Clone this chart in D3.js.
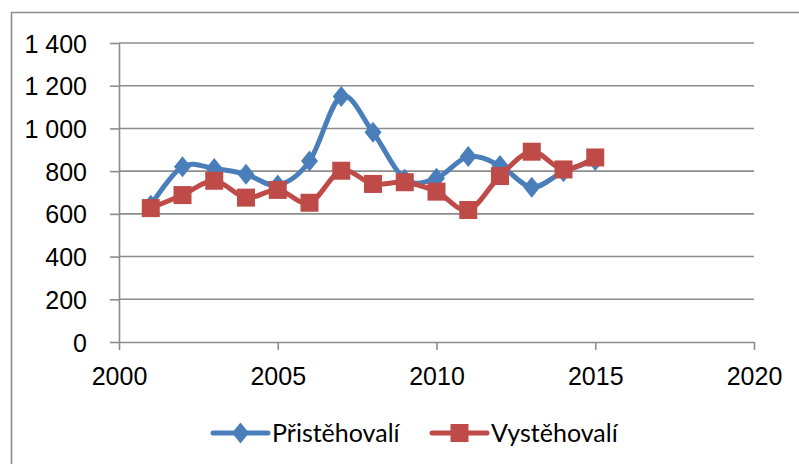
<!DOCTYPE html>
<html>
<head>
<meta charset="utf-8">
<script src="https://cdn.jsdelivr.net/npm/d3@7"></script>
<style>
  body { margin: 0; background: #fff; }
  svg { display: block; font-family: Lato, "Open Sans", sans-serif; }
  .grid line { stroke: #8c8c8c; stroke-width: 1.6; }
  .axis path, .axis line { stroke: #8c8c8c; stroke-width: 1.6; }
  .axis text { fill: #000; font-size: 25px; }
  .legend text { font-size: 25px; fill: #000; }
</style>
</head>
<body>
<svg class="chart"></svg>
<script>
var years = [2001, 2002, 2003, 2004, 2005, 2006, 2007, 2008, 2009, 2010, 2011, 2012, 2013, 2014, 2015];
var prist = [640, 821, 812, 785, 735, 847, 1150, 982, 762, 767, 868, 826, 725, 797, 850];
var vyst = [627, 688, 755, 676, 712, 652, 802, 740, 748, 704, 618, 777, 891, 808, 864];
var seriesNames = ["Přistěhovalí", "Vystěhovalí"];
var xTicks = [2000, 2005, 2010, 2015, 2020];
var yTicks = [0, 200, 400, 600, 800, 1000, 1200, 1400];

var W = 799, H = 464;
var margin = { top: 43, right: 45, bottom: 122, left: 119 },
width = W - margin.left - margin.right,
height = H - margin.top - margin.bottom;

var blue = "#4a7ebb", red = "#be4b48";

var x = d3.scaleLinear()
  .domain([2000, 2020])
  .range([0, width]);
var y = d3.scaleLinear()
  .domain([0, 1400])
  .range([height, 0]);

var fmt = function(d) { return d3.format(",")(d).replace(",", " "); };

var svg = d3.select(".chart")
  .attr("width", W)
  .attr("height", H);

// outer frame (only left and top visible)
svg.append("path")
  .attr("d", "M11.5," + H + "V12.5H" + W)
  .attr("fill", "none")
  .attr("stroke", "#8c8c8c")
  .attr("stroke-width", 1.6);

var g = svg.append("g")
  .attr("transform", "translate(" + margin.left + "," + margin.top + ")");

g.append("g")
  .attr("class", "grid")
  .selectAll("line")
  .data(yTicks.slice(1))
  .enter().append("line")
    .attr("x1", 0)
    .attr("x2", width)
    .attr("y1", function(d) { return y(d); })
    .attr("y2", function(d) { return y(d); });

var yAxis = d3.axisLeft(y)
  .tickValues(yTicks)
  .tickFormat(fmt)
  .tickSize(9)
  .tickSizeOuter(0)
  .tickPadding(23);
var xAxis = d3.axisBottom(x)
  .tickValues(xTicks)
  .tickFormat(d3.format("d"))
  .tickSize(8)
  .tickSizeOuter(0)
  .tickPadding(17);

g.append("g")
  .attr("class", "y axis")
  .call(yAxis);
g.append("g")
  .attr("class", "x axis")
  .attr("transform", "translate(0," + height + ")")
  .call(xAxis);
g.selectAll(".axis text").attr("font-family", null);
g.selectAll(".y.axis text").attr("dy", "0.36em");

var line = d3.line()
  .curve(d3.curveCatmullRom.alpha(0))
  .x(function(d) { return x(d[0]); })
  .y(function(d) { return y(d[1]); });

var diamond = "M0,-10.5L8.5,0L0,10.5L-8.5,0Z";
var square = "M-9,-9H9V9H-9Z";

function drawSeries(vals, color, shape) {
  var pts = years.map(function(yr, i) { return [yr, vals[i]]; });
  g.append("path")
    .datum(pts)
    .attr("fill", "none")
    .attr("stroke", color)
    .attr("stroke-width", 5)
    .attr("d", line);
  g.append("g").selectAll("path")
    .data(pts)
    .enter().append("path")
      .attr("d", shape)
      .attr("fill", color)
      .attr("transform", function(d) { return "translate(" + x(d[0]) + "," + y(d[1]) + ")"; });
}

drawSeries(prist, blue, diamond);
drawSeries(vyst, red, square);

// legend
var legend = svg.append("g").attr("class", "legend");
var items = [
  { name: seriesNames[0], color: blue, shape: diamond, x0: 213 },
  { name: seriesNames[1], color: red, shape: square, x0: 432 }
];
var ly = 433;
items.forEach(function(it) {
  legend.append("line")
    .attr("x1", it.x0).attr("x2", it.x0 + 55)
    .attr("y1", ly).attr("y2", ly)
    .attr("stroke", it.color)
    .attr("stroke-width", 5)
    .attr("stroke-linecap", "round");
  legend.append("path")
    .attr("d", it.shape)
    .attr("fill", it.color)
    .attr("transform", "translate(" + (it.x0 + 27.5) + "," + ly + ")");
  legend.append("text")
    .attr("x", it.x0 + 59)
    .attr("y", ly)
    .attr("dy", "0.36em")
    .text(it.name);
});
</script>
</body>
</html>
